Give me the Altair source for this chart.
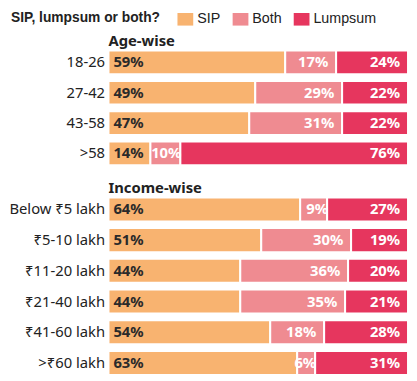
import altair as alt
import pandas as pd

# ---- data ----
types = ["SIP", "Both", "Lumpsum"]
colors = ["#F8B370", "#EF8B91", "#E6365E"]

age_cats = ["18-26", "27-42", "43-58", ">58"]
age_sip = [59, 49, 47, 14]
age_both = [17, 29, 31, 10]
age_lump = [24, 22, 22, 76]

inc_cats = ["Below ₹5 lakh", "₹5-10 lakh", "₹11-20 lakh", "₹21-40 lakh", "₹41-60 lakh", ">₹60 lakh"]
inc_sip = [64, 51, 44, 44, 54, 63]
inc_both = [9, 30, 36, 35, 18, 6]
inc_lump = [27, 19, 20, 21, 28, 31]

FONT = "Liberation Sans"
NOTO = "Noto Sans"


def build(cats, sip, both, lump):
    rows = []
    for c, s, b, l in zip(cats, sip, both, lump):
        start = 0
        for t, v in zip(types, [s, b, l]):
            rows.append(dict(cat=c, type=t, value=v, start=start, end=start + v, label=f"{v}%"))
            start += v
    return pd.DataFrame(rows)


def panel(df, cats, title, step):
    base = alt.Chart(df).encode(
        y=alt.Y("cat:N", sort=cats, title=None,
                scale=alt.Scale(paddingInner=0.22, paddingOuter=0.11),
                axis=alt.Axis(domain=False, ticks=False, labelPadding=4,
                              labelFontSize=15, labelColor="#222222", labelFont=NOTO,
                              minExtent=99, maxExtent=99))
    )
    xscale = alt.Scale(domain=[0, 100], nice=False, zero=True)
    bars = base.mark_bar(stroke="white", strokeWidth=2).encode(
        x=alt.X("start:Q", scale=xscale, axis=None),
        x2="end:Q",
        color=alt.Color("type:N", scale=alt.Scale(domain=types, range=colors),
                        legend=alt.Legend(title="SIP, lumpsum or both?")),
    )
    txt = dict(fontWeight="bold", fontSize=15, font=NOTO, baseline="middle")
    sip_lab = base.transform_filter("datum.type == 'SIP'").mark_text(
        align="left", dx=5, color="#2a2a2a", **txt).encode(
        x=alt.X("start:Q", scale=xscale), text="label:N")
    big_lab = base.transform_filter("datum.type != 'SIP' && datum.value >= 15").mark_text(
        align="right", dx=-8, color="white", **txt).encode(
        x=alt.X("end:Q", scale=xscale), text="label:N")
    small_lab = base.transform_filter("datum.type != 'SIP' && datum.value < 15").mark_text(
        align="right", dx=1, color="white", **txt).encode(
        x=alt.X("end:Q", scale=xscale), text="label:N")
    return alt.layer(bars, sip_lab, big_lab, small_lab).properties(
        width=304, height=alt.Step(step),
        title=alt.TitleParams(title, anchor="start", frame="group", fontSize=15,
                              fontWeight="bold", color="#222222", font=NOTO,
                              baseline="alphabetic", offset=-13.5),
    )


age_df = build(age_cats, age_sip, age_both, age_lump)
inc_df = build(inc_cats, inc_sip, inc_both, inc_lump)

chart = alt.vconcat(
    panel(age_df, age_cats, "Age-wise", 30.8),
    panel(inc_df, inc_cats, "Income-wise", 31.2),
    spacing=11,
).properties(
    padding={"left": 0, "top": 0, "right": 0, "bottom": 0},
).configure_view(stroke=None).configure_legend(
    orient="none", legendX=-99, legendY=-36.6, direction="horizontal", padding=0,
    titleOrient="left", titleFontSize=14, titleFontWeight="bold", titleColor="#222222",
    titleFont=FONT, titlePadding=17, titleBaseline="middle",
    labelFontSize=14.5, labelFont=FONT, labelColor="#222222", labelOffset=4,
    symbolType="M-1,-0.8H1V0.8H-1Z", symbolSize=256, symbolStrokeWidth=0, symbolOpacity=1,
    columnPadding=12,
)

chart.save("out.html", embed_options={"renderer": "svg", "actions": False})
